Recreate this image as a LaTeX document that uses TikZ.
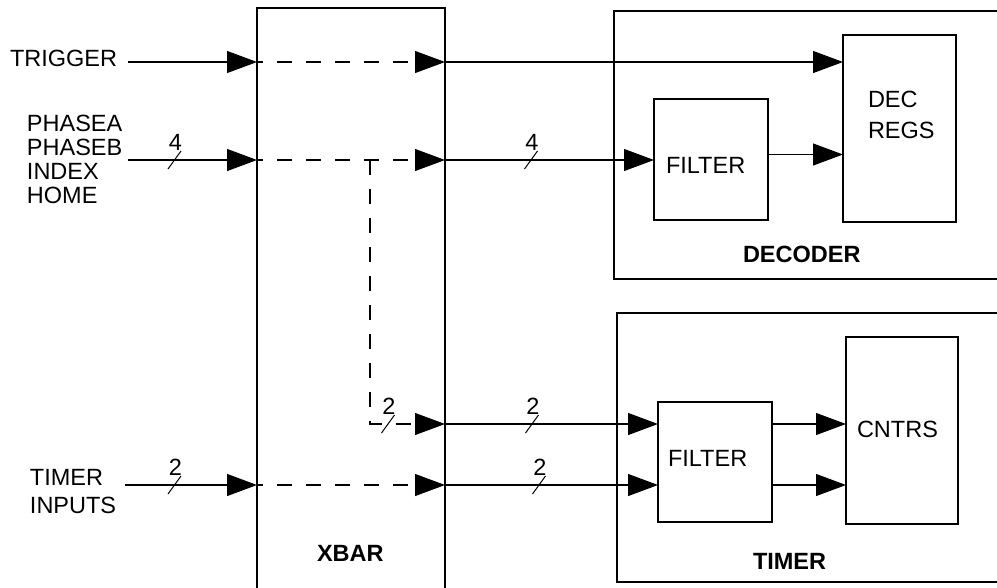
\documentclass[tikz,border=0pt]{standalone}
\usepackage{fontspec}
\setmainfont{Liberation Sans}
\usetikzlibrary{arrows.meta}
\begin{document}
\begin{tikzpicture}[x=1pt,y=-1pt,
  every node/.style={inner sep=0pt,outer sep=0pt},
  txt/.style={anchor=base west,font=\fontsize{23.5}{24}\selectfont},
  btxt/.style={anchor=base west,font=\fontsize{23.5}{24}\selectfont\bfseries},
  blk/.style={draw,line width=1.1pt,anchor=north west,inner sep=0pt,outer sep=0pt},
  arr/.style={line width=1.1pt,-{Triangle[length=30pt,width=22pt]}},
  dsh/.style={line width=1.1pt,dash pattern=on 15pt off 14pt},
  pics/bus/.style={code={
    \draw[line width=1pt] (-6.5,9) -- (6.5,-9);
    \node[anchor=base,font=\fontsize{23.5}{24}\selectfont] at (1,-10) {#1};
  }}
]
\useasboundingbox (0,0) rectangle (997,587);
\clip (0,0) rectangle (997,587);

% blocks
\node[blk,minimum width=188pt,minimum height=600pt] (xbar) at (257,8) {};
\node[blk,minimum width=400pt,minimum height=268pt] (decoder) at (614,11) {};
\node[blk,minimum width=114pt,minimum height=121pt] (decfilter) at (654,99) {};
\node[blk,minimum width=113pt,minimum height=187pt] (decregs) at (843,35) {};
\node[blk,minimum width=400pt,minimum height=269pt] (timer) at (617,313) {};
\node[blk,minimum width=114pt,minimum height=120pt] (tfilter) at (658,402) {};
\node[blk,minimum width=112pt,minimum height=187pt] (cntrs) at (846,337) {};

% labels
\node[txt] (ltrig) at (10,66) {TRIGGER};
\node[txt] (lpa) at (27,131) {PHASEA};
\node[txt] (lpb) at (27,155) {PHASEB};
\node[txt] (lidx) at (27,179) {INDEX};
\node[txt] (lhome) at (27,203) {HOME};
\node[txt] (ltim) at (30,485) {TIMER};
\node[txt] (linp) at (30,513) {INPUTS};
\node[btxt] (lxbar) at (317,561) {XBAR};
\node[txt] (ldec) at (868,107) {DEC};
\node[txt] (lregs) at (868,138) {REGS};
\node[txt] (ldf) at (666,173) {FILTER};
\node[btxt] (ldecoder) at (743,262) {DECODER};
\node[txt] (ltf) at (668,466) {FILTER};
\node[txt] (lcntrs) at (857,437) {CNTRS};
\node[btxt] (ltimer) at (753,569) {TIMER};

% row coordinates
\coordinate (trigin) at (128,62);
\coordinate (phin) at (128,160);
\coordinate (tin) at (125,485);
\coordinate (br) at (370,160);
\coordinate (row2) at (0,424);
\coordinate (row3) at (0,485);

% TRIGGER row
\draw[arr] (trigin) -- (trigin -| xbar.west);
\draw[dsh,dash phase=9pt] (trigin -| xbar.west) -- (trigin -| xbar.east);
\draw[arr] (trigin -| xbar.east) ++(-30,0) -- (trigin -| xbar.east);
\draw[arr] (trigin -| xbar.east) -- (trigin -| decregs.west);

% PHASE row
\draw[arr] (phin) -- (phin -| xbar.west);
\draw[dsh,dash phase=9pt] (phin -| xbar.west) -- (phin -| xbar.east);
\draw[arr] (phin -| xbar.east) ++(-30,0) -- (phin -| xbar.east);
\draw[arr] (phin -| xbar.east) -- (phin -| decfilter.west);
\draw[arr] ([yshift=5pt]decfilter.east) -- ([yshift=5pt]decfilter.east -| decregs.west);
\pic at (174.5,160) {bus=4};
\pic at (531,160) {bus=4};

% branch to timer
\draw[dsh] (br) -- (br |- row2) -- ([xshift=-30pt]row2 -| xbar.east);
\draw[arr] ([xshift=-30pt]row2 -| xbar.east) -- (row2 -| xbar.east);
\pic at (388,424) {bus=2};
\draw[arr] (row2 -| xbar.east) -- (row2 -| tfilter.west);
\pic at (532,424) {bus=2};

% TIMER INPUTS row
\draw[arr] (tin) -- (tin -| xbar.west);
\draw[dsh,dash phase=9pt] (tin -| xbar.west) -- (tin -| xbar.east);
\draw[arr] (tin -| xbar.east) ++(-30,0) -- (tin -| xbar.east);
\draw[arr] (tin -| xbar.east) -- (tin -| tfilter.west);
\pic at (174.5,485) {bus=2};
\pic at (539,485) {bus=2};

% filter to counters
\draw[arr] (row2 -| tfilter.east) -- (row2 -| cntrs.west);
\draw[arr] (row3 -| tfilter.east) -- (row3 -| cntrs.west);
\end{tikzpicture}
\end{document}
